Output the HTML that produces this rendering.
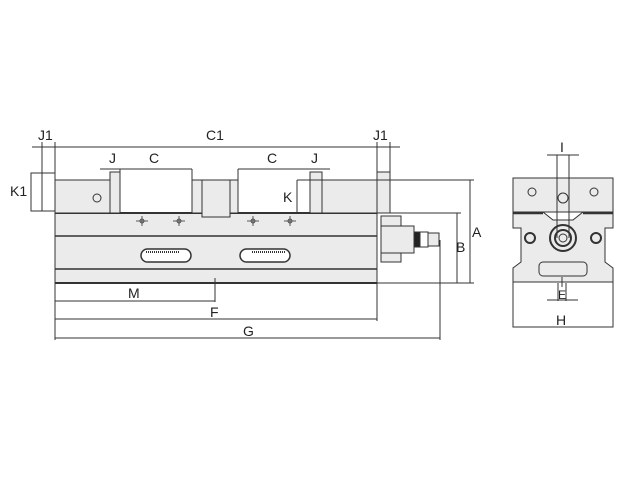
<!DOCTYPE html>
<html><head><meta charset="utf-8"><style>
html,body{margin:0;padding:0;background:#fff;}
svg{display:block;}
text{font-family:"Liberation Sans",Arial,sans-serif;font-size:14px;fill:#222;}
</style></head><body>
<svg width="640" height="480" viewBox="0 0 640 480" xmlns="http://www.w3.org/2000/svg">
<g stroke="#333" stroke-width="1" fill="none">
<rect x="55" y="213" width="322" height="70" fill="#ebebeb"/>
<line x1="55" y1="236" x2="377" y2="236" stroke-width="1.5"/>
<line x1="55" y1="269" x2="377" y2="269" stroke-width="1.5"/>
<line x1="55" y1="283" x2="377" y2="283" stroke-width="2"/>
<line x1="55" y1="213" x2="377" y2="213" stroke-width="2"/>
<rect x="55" y="180" width="55" height="33" fill="#ebebeb"/>
<rect x="110" y="172" width="10" height="41" fill="#ebebeb"/>
<rect x="192" y="180" width="46" height="33" fill="#ebebeb"/>
<rect x="202" y="180" width="28" height="37" fill="#ebebeb"/>
<rect x="310" y="172" width="12" height="41" fill="#ebebeb"/>
<rect x="322" y="180" width="55" height="33" fill="#ebebeb"/>
<rect x="377" y="172" width="13" height="41" fill="#ebebeb"/>
<rect x="31" y="173" width="24" height="38" fill="#fff"/>
<circle cx="97" cy="198" r="4"/>
<g stroke-width="0.8">
<circle cx="142" cy="221" r="2"/><line x1="136" y1="221" x2="148" y2="221"/><line x1="142" y1="216" x2="142" y2="226"/>
<circle cx="179" cy="221" r="2"/><line x1="173" y1="221" x2="185" y2="221"/><line x1="179" y1="216" x2="179" y2="226"/>
<circle cx="253" cy="221" r="2"/><line x1="247" y1="221" x2="259" y2="221"/><line x1="253" y1="216" x2="253" y2="226"/>
<circle cx="290" cy="221" r="2"/><line x1="284" y1="221" x2="296" y2="221"/><line x1="290" y1="216" x2="290" y2="226"/>
</g>
<rect x="141" y="249" width="50" height="13" rx="6.5" fill="#fff" stroke-width="1.5"/>
<line x1="146" y1="252" x2="180" y2="252" stroke-width="2" stroke-dasharray="1 1"/>
<rect x="240" y="249" width="50" height="13" rx="6.5" fill="#fff" stroke-width="1.5"/>
<line x1="252" y1="252" x2="285" y2="252" stroke-width="2" stroke-dasharray="1 1"/>
<rect x="381" y="216" width="20" height="46" fill="#ebebeb"/>
<rect x="381" y="226" width="33" height="27" fill="#ebebeb"/>
<rect x="414" y="232" width="6" height="15" fill="#222"/>
<rect x="420" y="232" width="8" height="15" fill="#fff"/>
<rect x="428" y="233" width="11" height="13" fill="#ebebeb"/>
<line x1="55" y1="147" x2="377" y2="147"/>
<line x1="32" y1="147" x2="55" y2="147"/>
<line x1="377" y1="147" x2="400" y2="147"/>
<line x1="42" y1="142" x2="42" y2="211"/>
<line x1="55" y1="142" x2="55" y2="180"/>
<line x1="377" y1="142" x2="377" y2="172"/>
<line x1="390" y1="142" x2="390" y2="172"/>
<line x1="100" y1="169" x2="120" y2="169"/>
<line x1="120" y1="169" x2="192" y2="169"/>
<line x1="120" y1="169" x2="120" y2="172"/>
<line x1="192" y1="169" x2="192" y2="180"/>
<line x1="238" y1="169" x2="330" y2="169"/>
<line x1="238" y1="169" x2="238" y2="180"/>
<line x1="297" y1="180" x2="297" y2="213"/>
<line x1="297" y1="180" x2="322" y2="180"/>
<line x1="377" y1="180" x2="474" y2="180"/>
<line x1="390" y1="213" x2="461" y2="213"/>
<line x1="377" y1="283" x2="474" y2="283"/>
<line x1="470" y1="180" x2="470" y2="283"/>
<line x1="457" y1="213" x2="457" y2="283"/>
<line x1="55" y1="283" x2="55" y2="340"/>
<line x1="215" y1="278" x2="215" y2="302"/>
<line x1="377" y1="283" x2="377" y2="321"/>
<line x1="440" y1="240" x2="440" y2="340"/>
<line x1="55" y1="301" x2="215" y2="301"/>
<line x1="55" y1="319" x2="377" y2="319"/>
<line x1="55" y1="338" x2="440" y2="338"/>
<!-- side view -->
<rect x="513" y="282" width="100" height="45" fill="#fff"/>
<path d="M513 212 H543 L553 220 H573 L583 212 H613 V228 H605 V262 L613 268 V282 H513 V268 L521 262 V228 H513 Z" fill="#ebebeb"/>
<rect x="513" y="178" width="100" height="34" fill="#ebebeb"/>
<line x1="513" y1="213" x2="543" y2="213" stroke-width="2.5"/>
<line x1="583" y1="213" x2="613" y2="213" stroke-width="2.5"/>
<rect x="539" y="262" width="48" height="14" rx="4" fill="#ebebeb"/>
<circle cx="532" cy="192" r="4"/><circle cx="563" cy="198" r="5"/><circle cx="594" cy="192" r="4"/>
<circle cx="530" cy="238" r="5" stroke-width="2"/><circle cx="596" cy="238" r="5" stroke-width="2"/>
<circle cx="563" cy="238" r="13" stroke-width="2"/><circle cx="563" cy="238" r="8" stroke-width="2"/><circle cx="563" cy="238" r="4"/>
<line x1="557" y1="155" x2="557" y2="238"/>
<line x1="569" y1="155" x2="569" y2="238"/>
<line x1="547" y1="155" x2="579" y2="155"/>
<line x1="558" y1="283" x2="558" y2="301"/><line x1="566" y1="283" x2="566" y2="301"/>
<line x1="547" y1="300" x2="578" y2="300"/>
<line x1="562" y1="277" x2="562" y2="287"/>
</g>
<text x="38" y="140">J1</text>
<text x="206" y="140">C1</text>
<text x="373" y="140">J1</text>
<text x="109" y="163">J</text>
<text x="149" y="163">C</text>
<text x="267" y="163">C</text>
<text x="311" y="163">J</text>
<text x="10" y="196">K1</text>
<text x="283" y="202">K</text>
<text x="472" y="237">A</text>
<text x="456" y="252">B</text>
<text x="128" y="298">M</text>
<text x="210" y="317">F</text>
<text x="243" y="336">G</text>
<text x="560" y="152">I</text>
<text x="558" y="299" style="font-size:12px">E</text>
<text x="556" y="325">H</text>
</svg>
</body></html>
